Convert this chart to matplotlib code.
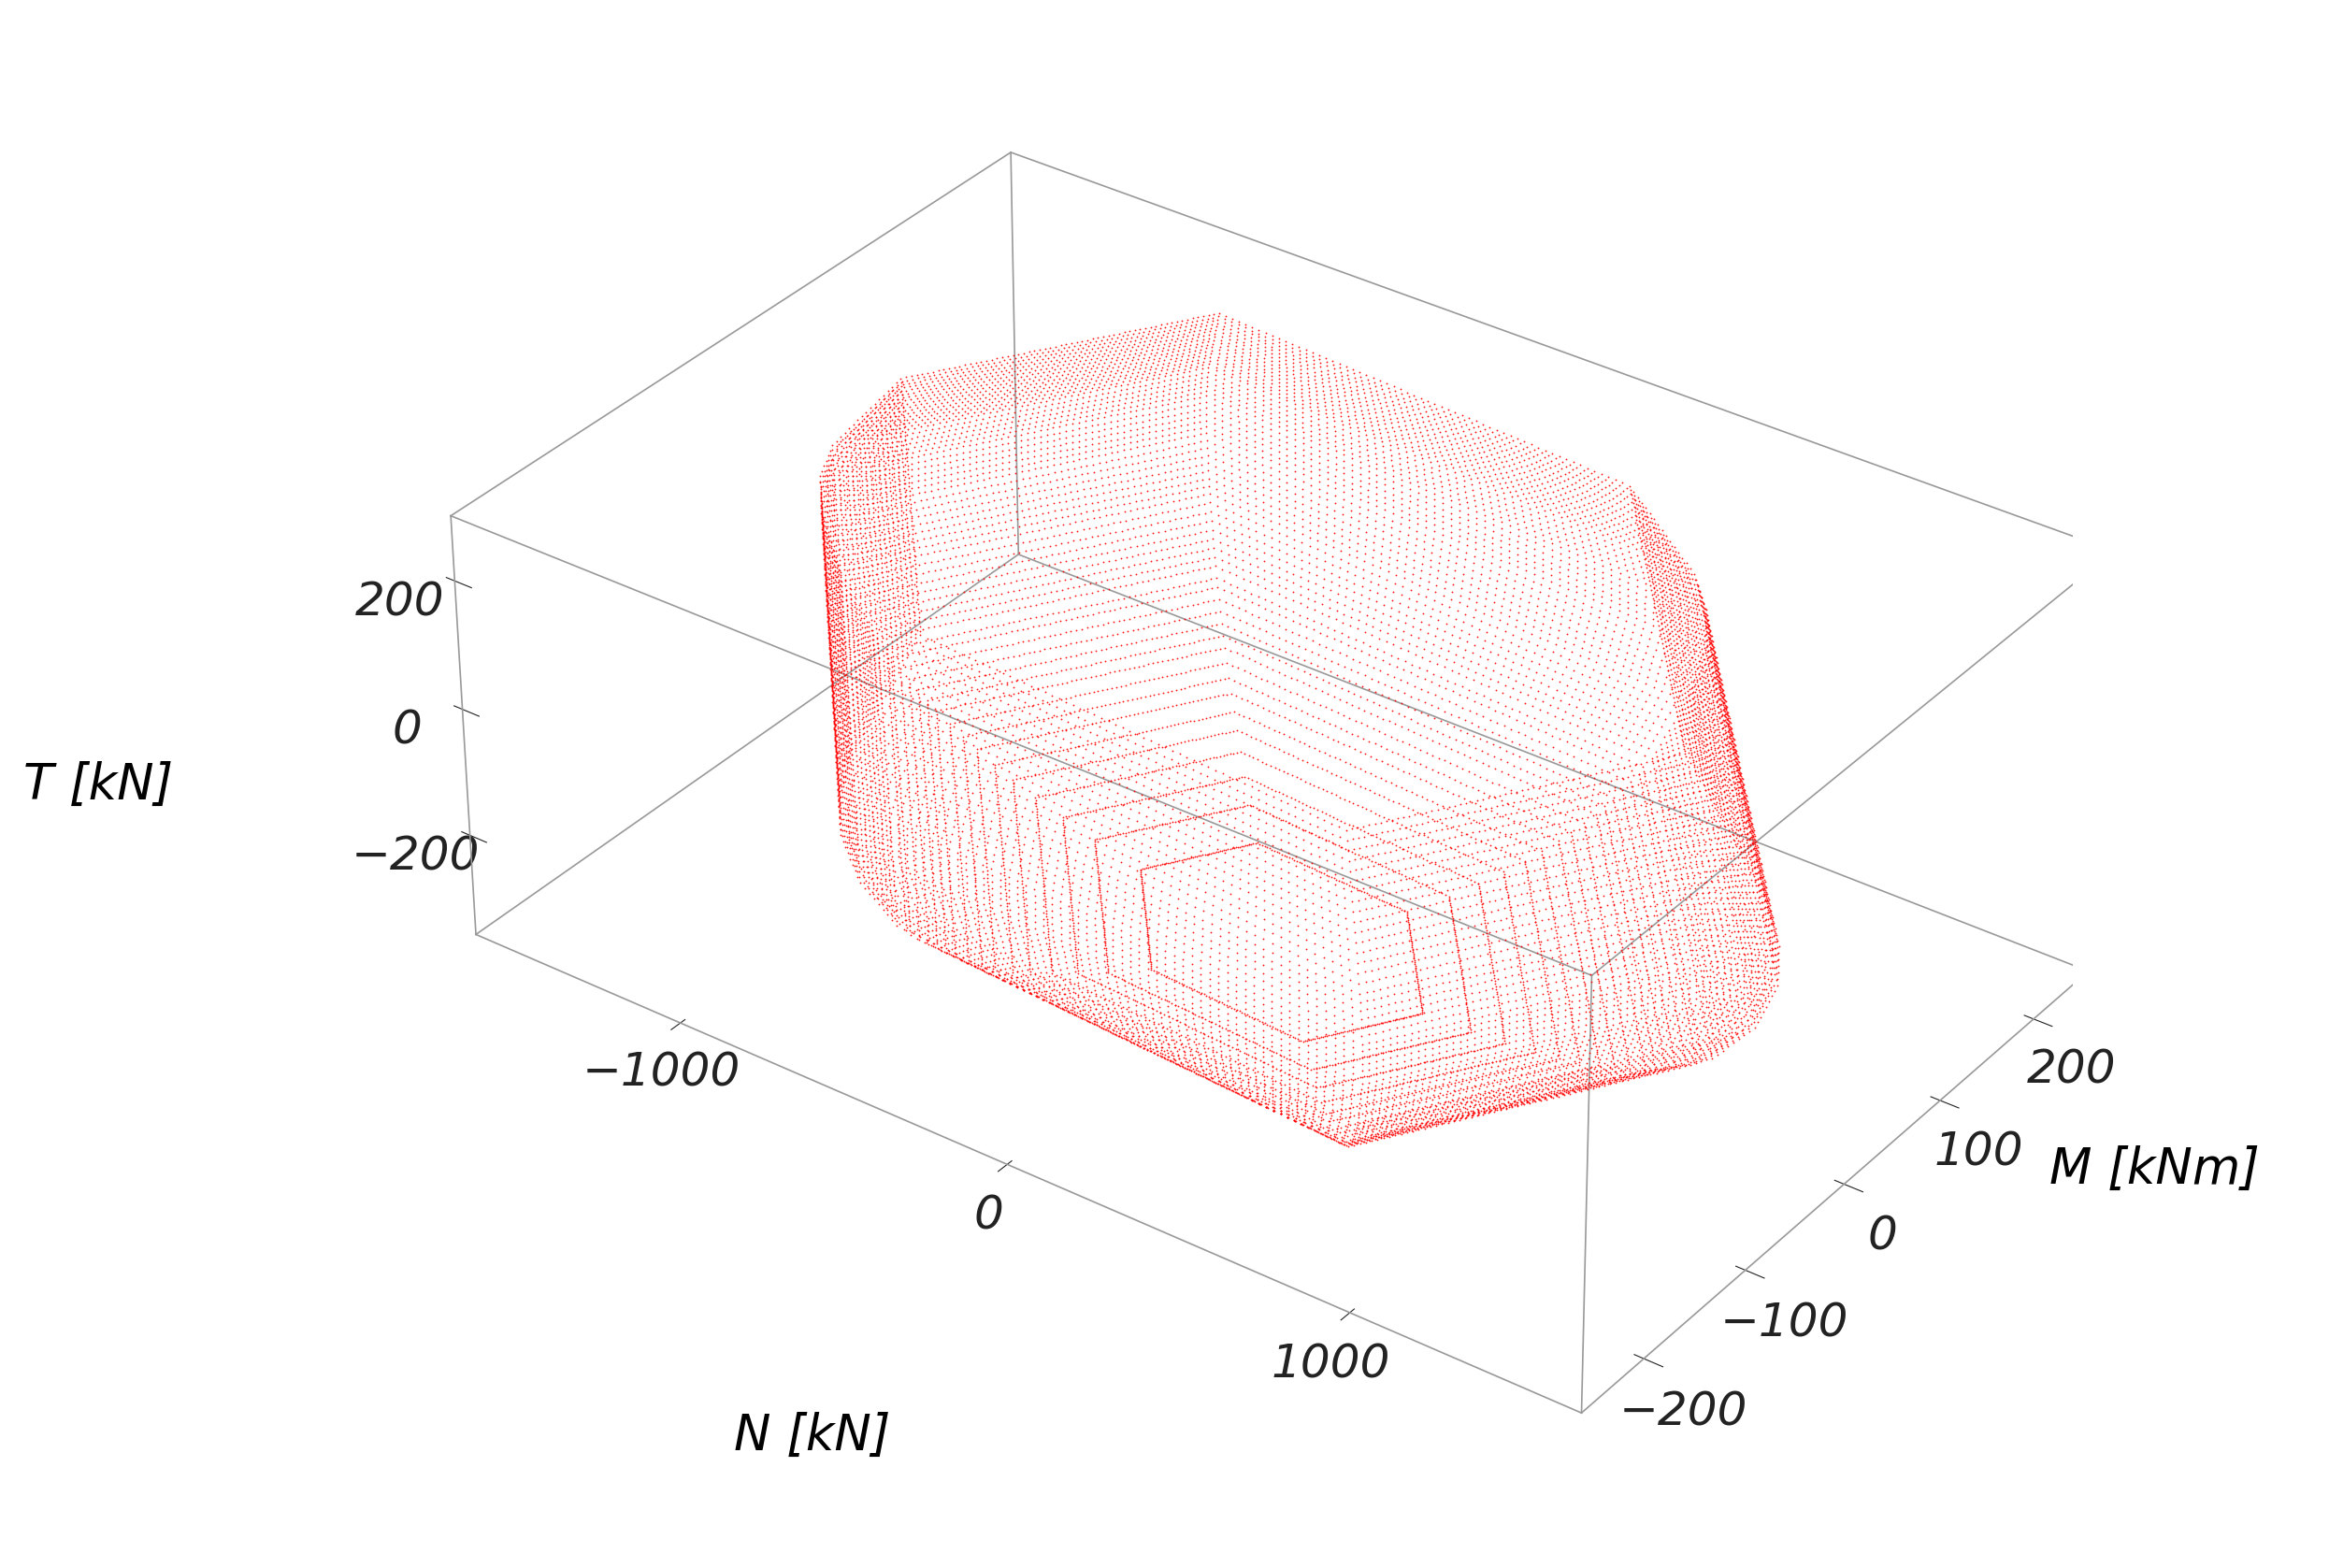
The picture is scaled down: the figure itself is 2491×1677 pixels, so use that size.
import numpy as np
import matplotlib
matplotlib.use("Agg")
import matplotlib.pyplot as plt

# Hexagon vertices of the N-M domain at T = 0
hex_N = [-1550, -1000, 600, 1550, 1000, -600]
hex_M = [40, 250, 225, -40, -250, -225]

# Shear levels and the shrink factor of the hexagon at each level
T_levels = [-340, -330, -320, -310, -300, -290, -280, -270, -260, -250, -240, -230, -220, -210,
            -200, -190, -180, -170, -160, -150, -140, -130, -120, -110, -100, -90, -80, -70,
            -60, -50, -40, -30, -20, -10, 0, 10, 20, 30, 40, 50, 60, 70, 80, 90, 100, 110, 120,
            130, 140, 150, 160, 170, 180, 190, 200, 210, 220, 230, 240, 250, 260]
scales = [0.30, 0.40, 0.47, 0.53, 0.58, 0.62, 0.66, 0.69, 0.72, 0.75, 0.77, 0.79, 0.81, 0.83,
          0.85, 0.86, 0.88, 0.89, 0.90, 0.91, 0.92, 0.93, 0.94, 0.95, 0.96, 0.965, 0.97, 0.975,
          0.98, 0.985, 0.99, 0.995, 1.00, 1.00, 1.00, 1.00, 1.00, 1.00, 1.00, 0.995, 0.99, 0.985,
          0.98, 0.975, 0.97, 0.96, 0.95, 0.94, 0.93, 0.92, 0.91, 0.90, 0.89, 0.88, 0.87, 0.86,
          0.85, 0.84, 0.83, 0.82, 0.81]

pts_per_edge = 60

xs, ys, zs = [], [], []
vN = np.array(hex_N + hex_N[:1], dtype=float)
vM = np.array(hex_M + hex_M[:1], dtype=float)
for t, s in zip(T_levels, scales):
    for i in range(len(hex_N)):
        u = np.linspace(0, 1, pts_per_edge, endpoint=False)
        xs.append(s * (vN[i] + u * (vN[i + 1] - vN[i])))
        ys.append(s * (vM[i] + u * (vM[i + 1] - vM[i])))
        zs.append(np.full_like(u, t))
xs = np.concatenate(xs); ys = np.concatenate(ys); zs = np.concatenate(zs)

fig = plt.figure(figsize=(24.91, 16.77), dpi=100)
ax = fig.add_axes([0.04, -0.01, 1.0, 1.04], projection="3d")
ax.scatter(xs, ys, zs, s=7, c="red", marker=".", linewidths=0, depthshade=False, alpha=0.9)

xl, yl, zl = (-1650, 1650), (-260, 260), (-360, 300)
ax.set_xlim(xl); ax.set_ylim(yl); ax.set_zlim(zl)
ax.set_box_aspect((1.5, 1.0, 0.55), zoom=1.02)
ax.view_init(elev=33, azim=-54)
ax.zaxis._axinfo["juggled"] = (1, 2, 0)

# box edges
for x in xl:
    for y in yl:
        ax.plot([x, x], [y, y], zl, color="#999999", lw=1.2)
for x in xl:
    for z in zl:
        ax.plot([x, x], yl, [z, z], color="#999999", lw=1.2)
for y in yl:
    for z in zl:
        ax.plot(xl, [y, y], [z, z], color="#999999", lw=1.2)

ax.grid(False)
for axis in (ax.xaxis, ax.yaxis, ax.zaxis):
    axis.set_pane_color((1, 1, 1, 0))
    axis.line.set_color((1, 1, 1, 0))
ax.set_xticks([-1000, 0, 1000])
ax.set_yticks([-200, -100, 0, 100, 200])
ax.set_zticks([-200, 0, 200])
ax.set_xticklabels(["\u22121000", "0", "1000"])
ax.set_yticklabels(["\u2212200", "\u2212100", "0", "100", "200"])
ax.set_zticklabels(["\u2212200", "0", "200"])
ax.tick_params(labelsize=36, colors="#222222", pad=14)
for lab in ax.get_xticklabels() + ax.get_yticklabels() + ax.get_zticklabels():
    lab.set_fontstyle("italic")

fig.text(0.01, 0.49, "T [kN]", fontsize=38, fontstyle="italic")
fig.text(0.315, 0.075, "N [kN]", fontsize=38, fontstyle="italic")
fig.text(0.88, 0.245, "M [kNm]", fontsize=38, fontstyle="italic")

fig.savefig("out.png", dpi=100, facecolor="white")
